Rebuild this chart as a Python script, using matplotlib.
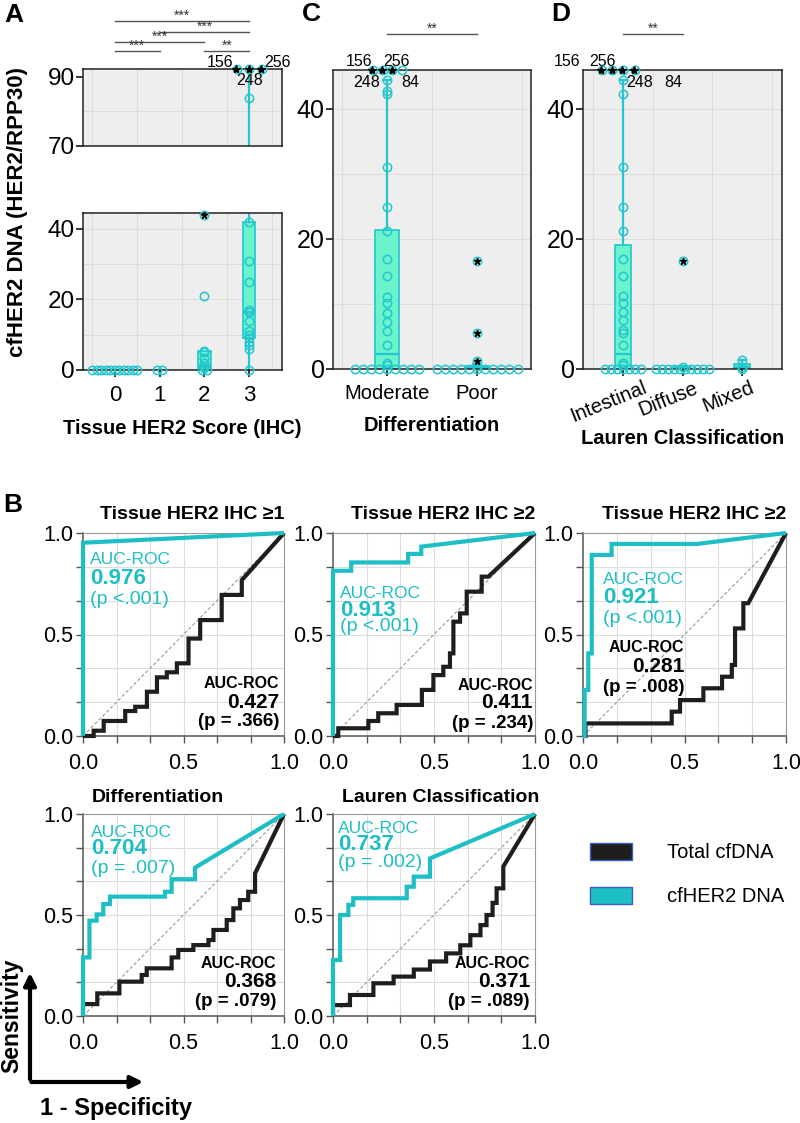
import numpy as np
import matplotlib
matplotlib.use('Agg')
import matplotlib.pyplot as plt
from matplotlib.patches import Rectangle, FancyArrowPatch
from matplotlib.transforms import ScaledTranslation, blended_transform_factory

plt.rcParams['font.family'] = ['Liberation Sans', 'DejaVu Sans']

# ---------------- data ----------------
ihc_categories = ['0', '1', '2', '3']
ihc_points = [
    [0, 0, 0, 0, 0, 0, 0, 0, 0, 0, 0],
    [0, 0],
    [0, 0, 0.5, 1.0, 2.0, 3.5, 5.0, 5.5, 21.0],
    [0, 6.0, 7.0, 8.0, 9.0, 10.0, 11.0, 14.0, 16.5, 17.0, 25.0, 31.0, 42.0, 84.0],
]
ihc_star_points = [[], [], [44.0], []]
ihc_offscale = [[], [], [], [156, 248, 256]]
ihc_q1 = [0, 0, 0, 9.0]
ihc_med = [0, 0, 1.0, 16.5]
ihc_q3 = [0, 0, 5.5, 42.0]
ihc_whishi = [0, 0, 5.5, 256]
ihc_sig_pairs = [(0, 3), (1, 3), (0, 2), (0, 1), (2, 3)]
ihc_sig_labels = ['***', '***', '***', '***', '**']

diff_categories = ['Moderate', 'Poor']
diff_points = [
    [0, 0, 0, 0, 0, 0, 0, 0, 0, 0.6, 0.9, 3.7, 5.9, 7.2, 8.6, 10.2, 11.1, 14.3, 17.0,
     21.3, 24.9, 31.1, 42.3, 42.8, 44.5],
    [0, 0, 0, 0, 0, 0, 0, 0, 0, 0, 0, 0.4],
]
diff_star_points = [[], [1.3, 5.5, 16.6]]
diff_offscale = [[156, 256, 248, 84], []]
diff_q1 = [0, 0]
diff_med = [2.3, 0.2]
diff_q3 = [21.4, 0.4]
diff_whishi = [44.5, 0.8]
diff_sig_pairs = [(0, 1)]
diff_sig_labels = ['**']

lauren_categories = ['Intestinal', 'Diffuse', 'Mixed']
lauren_points = [
    [0, 0, 0, 0, 0, 0, 0, 0.6, 1.0, 3.7, 5.5, 6.0, 7.5, 8.8, 10.2, 11.2, 14.3, 17.0,
     21.3, 24.9, 31.1, 42.3, 44.5],
    [0, 0, 0, 0, 0, 0, 0, 0, 0, 0, 0.3],
    [0, 0.3, 1.4],
]
lauren_star_points = [[], [16.6], []]
lauren_offscale = [[156, 256, 248, 84], [], []]
lauren_q1 = [0, 0, 0]
lauren_med = [2.3, 0.1, 0.3]
lauren_q3 = [19.1, 0.3, 0.7]
lauren_whishi = [44.5, 0.4, 1.4]
lauren_sig_pairs = [(0, 1)]
lauren_sig_labels = ['**']

roc_titles = ['Tissue HER2 IHC ≥1', 'Tissue HER2 IHC ≥2', 'Tissue HER2 IHC ≥2',
              'Differentiation', 'Lauren Classification']
auc_her2 = ['0.976', '0.913', '0.921', '0.704', '0.737']
p_her2 = ['(p <.001)', '(p <.001)', '(p <.001)', '(p = .007)', '(p = .002)']
auc_total = ['0.427', '0.411', '0.281', '0.368', '0.371']
p_total = ['(p = .366)', '(p = .234)', '(p = .008)', '(p = .079)', '(p = .089)']

her2_fpr = [
    [0, 0, 1.0],
    [0, 0, 0.09, 0.09, 0.372, 0.372, 0.437, 0.437, 1.0],
    [0, 0.008, 0.008, 0.026, 0.026, 0.043, 0.043, 0.141, 0.141, 0.56, 1.0],
    [0, 0, 0.032, 0.032, 0.068, 0.068, 0.101, 0.101, 0.134, 0.134, 0.408, 0.408,
     0.441, 0.441, 0.557, 0.557, 1.0],
    [0, 0, 0.035, 0.035, 0.076, 0.076, 0.1, 0.1, 0.365, 0.365, 0.4, 0.4, 0.48, 0.48, 1.0],
]
her2_tpr = [
    [0, 0.952, 1.0],
    [0, 0.814, 0.814, 0.855, 0.855, 0.897, 0.897, 0.933, 1.0],
    [0, 0, 0.227, 0.227, 0.407, 0.407, 0.892, 0.892, 0.946, 0.946, 1.0],
    [0, 0.29, 0.29, 0.472, 0.472, 0.503, 0.503, 0.554, 0.554, 0.591, 0.591, 0.615,
     0.615, 0.677, 0.677, 0.734, 1.0],
    [0, 0.277, 0.277, 0.5, 0.5, 0.55, 0.55, 0.583, 0.583, 0.64, 0.64, 0.69, 0.69, 0.78, 1.0],
]
total_fpr = [
    [0, 0.053, 0.053, 0.103, 0.103, 0.21, 0.21, 0.26, 0.26, 0.318, 0.318, 0.368, 0.368,
     0.417, 0.417, 0.467, 0.467, 0.525, 0.525, 0.583, 0.583, 0.69, 0.69, 0.79, 0.79, 1.0],
    [0, 0.026, 0.026, 0.175, 0.175, 0.224, 0.224, 0.315, 0.315, 0.44, 0.44, 0.497, 0.497,
     0.546, 0.546, 0.579, 0.579, 0.596, 0.596, 0.629, 0.629, 0.662, 0.662, 0.736, 0.736,
     0.769, 1.0],
    [0, 0.012, 0.012, 0.437, 0.437, 0.478, 0.478, 0.593, 0.593, 0.685, 0.685, 0.733, 0.733,
     0.749, 0.749, 0.79, 0.79, 0.814, 1.0],
    [0, 0, 0.071, 0.071, 0.181, 0.181, 0.292, 0.292, 0.317, 0.317, 0.441, 0.441, 0.474,
     0.474, 0.549, 0.549, 0.624, 0.624, 0.649, 0.649, 0.715, 0.715, 0.748, 0.748, 0.781,
     0.781, 0.822, 0.822, 0.856, 0.856, 1.0],
    [0, 0, 0.084, 0.084, 0.2, 0.2, 0.3, 0.3, 0.4, 0.4, 0.48, 0.48, 0.56, 0.56, 0.63, 0.63,
     0.68, 0.68, 0.73, 0.73, 0.76, 0.76, 0.79, 0.79, 0.81, 0.81, 0.843, 0.843, 1.0],
]
total_tpr = [
    [0, 0, 0.026, 0.026, 0.074, 0.074, 0.123, 0.123, 0.144, 0.144, 0.218, 0.218, 0.289,
     0.289, 0.314, 0.314, 0.358, 0.358, 0.48, 0.48, 0.571, 0.571, 0.695, 0.695, 0.768, 1.0],
    [0, 0, 0.038, 0.038, 0.074, 0.074, 0.112, 0.112, 0.153, 0.153, 0.227, 0.227, 0.30,
     0.30, 0.341, 0.341, 0.407, 0.407, 0.563, 0.563, 0.604, 0.604, 0.711, 0.711, 0.785,
     0.785, 1.0],
    [0, 0, 0.062, 0.062, 0.12, 0.12, 0.177, 0.177, 0.235, 0.235, 0.292, 0.292, 0.35, 0.35,
     0.53, 0.53, 0.654, 0.654, 1.0],
    [0, 0.059, 0.059, 0.112, 0.112, 0.17, 0.17, 0.203, 0.203, 0.236, 0.236, 0.29, 0.29,
     0.327, 0.327, 0.351, 0.351, 0.376, 0.376, 0.426, 0.426, 0.475, 0.475, 0.533, 0.533,
     0.574, 0.574, 0.615, 0.615, 0.706, 1.0],
    [0, 0.054, 0.054, 0.104, 0.104, 0.162, 0.162, 0.195, 0.195, 0.23, 0.23, 0.27, 0.27,
     0.31, 0.31, 0.35, 0.35, 0.4, 0.4, 0.45, 0.45, 0.5, 0.5, 0.56, 0.56, 0.632, 0.632,
     0.74, 1.0],
]
legend_labels = ['Total cfDNA', 'cfHER2 DNA']

# ---------------- style ----------------
W, H = 800, 1123
CYAN = '#22C6CE'
ROC_CYAN = '#1DBFC4'
MINT = '#6BF4CC'
BG = '#EEEEEE'
GRID = '#DCDCDC'
DARK = '#1E1E1E'

fig = plt.figure(figsize=(W / 100, H / 100), dpi=100)


def add_ax(x0, y0, x1, y1):
    return fig.add_axes([x0 / W, 1 - y1 / H, (x1 - x0) / W, (y1 - y0) / H])


def fig_y(px):
    return 1 - px / H


def swarm_x(vals, center, step):
    vals = np.asarray(vals, float)
    xs = np.full(len(vals), float(center))
    idx = np.where(vals == 0)[0]
    n = len(idx)
    xs[idx] = center + (np.arange(n) - (n - 1) / 2) * step
    return xs


def style_box_axes(ax, xlim, ylim, yticks, ygrid, ncat, ysize):
    ax.set_facecolor(BG)
    ax.set_xlim(*xlim)
    ax.set_ylim(*ylim)
    ax.set_yticks(yticks)
    for g in ygrid:
        ax.axhline(g, color=GRID, lw=0.7, zorder=0)
    for g in np.arange(-0.5, ncat + 0.5, 1.0):
        ax.axvline(g, color=GRID, lw=0.7, zorder=0)
    for s in ax.spines.values():
        s.set_color('#222222')
        s.set_linewidth(1.1)
    ax.tick_params(axis='y', labelsize=ysize, length=5, width=1.1, pad=1)
    ax.tick_params(axis='x', labelsize=14.5, length=5, width=1.1, pad=6)


def draw_group(ax, pos, vals, stars, q1, med, q3, whi, width, step, ylo, yhi, capw=0.0):
    st = dict(med=med, q1=q1, q3=q3, whislo=0, whishi=whi)
    ax.bxp([st], positions=[pos], widths=[width], showfliers=False, patch_artist=True,
           showcaps=capw > 0, capwidths=[capw] if capw > 0 else None,
           boxprops=dict(facecolor=MINT, edgecolor=CYAN, lw=1.2),
           medianprops=dict(color=CYAN, lw=1.6),
           whiskerprops=dict(color=CYAN, lw=1.6),
           capprops=dict(color=CYAN, lw=1.6), manage_ticks=False)
    vals = np.asarray(vals, float)
    xs = swarm_x(vals, pos, step)
    m = (vals >= ylo) & (vals <= yhi)
    ax.plot(xs[m], vals[m], 'o', mfc='none', mec=CYAN, ms=6, mew=1.1, clip_on=False, zorder=4)
    for v in stars:
        if ylo <= v <= yhi:
            ax.plot([pos], [v], 'o', mfc='none', mec=CYAN, ms=6, mew=1.1, clip_on=False, zorder=4)
            ax.plot([pos], [v], '*', color='black', ms=5, clip_on=False, zorder=5)


def offscale(ax, pos, values, offsets, stars_n, ytop, label_offsets):
    for i, (v, o) in enumerate(zip(values, offsets)):
        ax.plot([pos + o], [ytop], 'o', mfc='none', mec=CYAN, ms=6, mew=1.1, clip_on=False, zorder=5)
        if i < stars_n:
            ax.plot([pos + o - 0.01], [ytop], '*', color='black', ms=6, clip_on=False, zorder=6)
    for v, (dx, dy) in zip(values, label_offsets):
        ax.annotate(str(v), xy=(pos, ytop), xytext=(dx, dy), textcoords='offset points',
                    ha='center', va='center', fontsize=11.5, annotation_clip=False)


def sig_bars(ax, pairs, labels, ypx_list):
    tr = blended_transform_factory(ax.transData, fig.transFigure)
    for (a, b), lab, ypx in zip(pairs, labels, ypx_list):
        ax.plot([a, b], [fig_y(ypx), fig_y(ypx)], color='#555555', lw=1.0, transform=tr, clip_on=False)
        ax.text((a + b) / 2, fig_y(ypx - 5), lab, transform=tr, ha='center', va='center',
                fontsize=10, color='#333333')


# ---------------- Panel A ----------------
xlimA = (-0.71, 3.73)
axAt = add_ax(83, 69, 282, 146)
style_box_axes(axAt, xlimA, (70, 92.3), [70, 90], [80], 4, 17.5)
axAt.set_xticks([])
axAb = add_ax(83, 213, 282, 370)
style_box_axes(axAb, xlimA, (0, 44.5), [0, 20, 40], [10, 20, 30, 40], 4, 17.5)
axAb.set_xticks(range(4))
axAb.set_xticklabels(ihc_categories)
axAb.tick_params(axis='x', labelsize=16)
for i in range(4):
    draw_group(axAb, i, ihc_points[i], ihc_star_points[i], ihc_q1[i], ihc_med[i], ihc_q3[i],
               ihc_whishi[i], 0.27, 0.1, 0, 44.5)
    draw_group(axAt, i, ihc_points[i], [], ihc_q1[i], ihc_med[i], ihc_q3[i],
               ihc_whishi[i], 0.27, 0.1, 70, 92.3)
offscale(axAt, 3, ihc_offscale[3], [-0.28, 0.0, 0.28], 3, 92.3,
         [(-21, 5), (0, -8), (20, 5)])
sig_bars(axAt, ihc_sig_pairs, ihc_sig_labels, [21, 32, 42, 51, 51])
axAb.set_xlabel('Tissue HER2 Score (IHC)', fontsize=14.5, fontweight='bold', labelpad=9)
fig.text(0.022, fig_y(212), 'cfHER2 DNA (HER2/RPP30)', rotation=90, ha='center', va='center',
         fontsize=16, fontweight='bold')

# ---------------- Panel C ----------------
axC = add_ax(333, 70, 531, 369)
style_box_axes(axC, (-0.6, 1.6), (0, 46), [0, 20, 40], [10, 20, 30, 40], 2, 18)
axC.set_xticks(range(2))
axC.set_xticklabels(diff_categories)
for i in range(2):
    draw_group(axC, i, diff_points[i], diff_star_points[i], diff_q1[i], diff_med[i], diff_q3[i],
               diff_whishi[i], 0.26, 0.09, 0, 46, capw=0.08)
offscale(axC, 0, diff_offscale[0], [-0.16, -0.05, 0.06, 0.17], 3, 46,
         [(-20, 6), (7, 6), (-15, -9), (17, -9)])
sig_bars(axC, diff_sig_pairs, diff_sig_labels, [34])
axC.set_xlabel('Differentiation', fontsize=14.5, fontweight='bold', labelpad=9)

# ---------------- Panel D ----------------
axD = add_ax(583, 70, 782, 369)
style_box_axes(axD, (-0.67, 2.67), (0, 46), [0, 20, 40], [10, 20, 30, 40], 3, 18)
axD.set_xticks(range(3))
axD.set_xticklabels(lauren_categories, rotation=22, ha='center')
for lab in axD.get_xticklabels():
    lab.set_transform(lab.get_transform() + ScaledTranslation(-14 / 100, 0.06, fig.dpi_scale_trans))
for i in range(3):
    draw_group(axD, i, lauren_points[i], lauren_star_points[i], lauren_q1[i], lauren_med[i],
               lauren_q3[i], lauren_whishi[i], 0.27, 0.1, 0, 46, capw=0.1)
offscale(axD, 0, lauren_offscale[0], [-0.35, -0.18, 0.0, 0.2], 4, 46,
         [(-40, 6), (-15, 6), (12, -9), (36, -9)])
sig_bars(axD, lauren_sig_pairs, lauren_sig_labels, [34])
axD.set_xlabel('Lauren Classification', fontsize=14.5, fontweight='bold', labelpad=2)

# ---------------- Panel B (ROC) ----------------
roc_boxes = [(83, 533, 284, 736), (333, 533, 535, 736), (583, 533, 786, 736),
             (83, 814, 284, 1016), (333, 814, 535, 1016)]
her2_text_pos = [(0.035, 0.867, 0.778, 0.67), (0.035, 0.704, 0.62, 0.537),
                 (0.10, 0.77, 0.68, 0.58), (0.04, 0.91, 0.83, 0.73), (0.025, 0.93, 0.85, 0.76)]
total_text_pos = [(0.975, 0.261, 0.167, 0.069), (0.99, 0.25, 0.163, 0.064),
                  (0.50, 0.435, 0.34, 0.24), (0.96, 0.26, 0.17, 0.07), (0.975, 0.26, 0.17, 0.07)]
sixths = np.arange(0, 7) / 6
for k, (x0, y0, x1, y1) in enumerate(roc_boxes):
    ax = add_ax(x0, y0, x1, y1)
    ax.set_xlim(0, 1)
    ax.set_ylim(0, 1)
    for g in sixths[1:-1]:
        ax.axhline(g, color='#DDDDDD', lw=0.8, zorder=0)
        ax.axvline(g, color='#DDDDDD', lw=0.8, zorder=0)
    ax.set_xticks([0, 0.5, 1.0])
    ax.set_yticks([0, 0.5, 1.0])
    ax.set_xticklabels(['0.0', '0.5', '1.0'])
    ax.set_yticklabels(['0.0', '0.5', '1.0'])
    ax.set_xticks(sixths, minor=True)
    ax.set_yticks(sixths, minor=True)
    ax.tick_params(which='both', length=5, width=1, color='#555555', labelsize=15.5)
    ax.tick_params(axis='x', pad=7)
    ax.tick_params(axis='y', pad=2)
    for s in ['left', 'bottom']:
        ax.spines[s].set_color('#555555')
        ax.spines[s].set_linewidth(1.1)
    for s in ['top', 'right']:
        ax.spines[s].set_color('#999999')
        ax.spines[s].set_linewidth(0.8)
    ax.plot([0, 1], [0, 1], ls=(0, (3, 2)), color='#999999', lw=0.8, zorder=1)
    ax.plot(total_fpr[k], total_tpr[k], color=DARK, lw=3, zorder=3, clip_on=False,
            solid_joinstyle='miter', solid_capstyle='butt')
    ax.plot(her2_fpr[k], her2_tpr[k], color=ROC_CYAN, lw=3, zorder=4, clip_on=False,
            solid_joinstyle='miter', solid_capstyle='butt')
    hx, hy1, hy2, hy3 = her2_text_pos[k]
    ax.text(hx, hy1, 'AUC-ROC', transform=ax.transAxes, color=ROC_CYAN, fontsize=12.5,
            ha='left', va='center')
    ax.text(hx, hy2, auc_her2[k], transform=ax.transAxes, color=ROC_CYAN, fontsize=16,
            ha='left', va='center', fontweight='semibold')
    ax.text(hx, hy3, p_her2[k], transform=ax.transAxes, color=ROC_CYAN, fontsize=14,
            ha='left', va='center')
    tx, ty1, ty2, ty3 = total_text_pos[k]
    ax.text(tx, ty1, 'AUC-ROC', transform=ax.transAxes, color='black', fontsize=11.5,
            ha='right', va='center', fontweight='bold')
    ax.text(tx, ty2, auc_total[k], transform=ax.transAxes, color='black', fontsize=15,
            ha='right', va='center', fontweight='bold')
    ax.text(tx, ty3, p_total[k], transform=ax.transAxes, color='black', fontsize=13.5,
            ha='right', va='center', fontweight='bold')
    if k < 3:
        ax.text(1.0, 1 + 18 / (y1 - y0), roc_titles[k], transform=ax.transAxes, ha='right',
                va='center', fontsize=14, fontweight='bold')
    else:
        ax.text(0.045, 1 + 17 / (y1 - y0), roc_titles[k], transform=ax.transAxes, ha='left',
                va='center', fontsize=14, fontweight='bold')

# legend
for lab, col, ypx in zip(legend_labels, [DARK, ROC_CYAN], [843, 887]):
    fig.patches.append(Rectangle((590 / W, fig_y(ypx + 17)), 42 / W, 17 / H,
                                 transform=fig.transFigure, facecolor=col,
                                 edgecolor='#3A5FC8', lw=1.0))
    fig.text(667 / W, fig_y(ypx + 9), lab, ha='left', va='center', fontsize=14.5)

# axis arrows
fig.patches.append(FancyArrowPatch((30 / W, fig_y(1082)), (30 / W, fig_y(970)),
                                   transform=fig.transFigure, arrowstyle='-|>',
                                   mutation_scale=18, lw=3, color='black'))
fig.patches.append(FancyArrowPatch((28.5 / W, fig_y(1082)), (146 / W, fig_y(1082)),
                                   transform=fig.transFigure, arrowstyle='-|>',
                                   mutation_scale=18, lw=3, color='black'))
fig.text(12 / W, fig_y(1016), 'Sensitivity', rotation=90, ha='center', va='center',
         fontsize=16.5, fontweight='bold')
fig.text(116 / W, fig_y(1108), '1 - Specificity', ha='center', va='center',
         fontsize=17, fontweight='bold')

# panel letters
for lab, xp, yp in [('A', 14, 15), ('C', 311, 14), ('D', 561, 14), ('B', 13, 505)]:
    fig.text(xp / W, fig_y(yp), lab, ha='center', va='center', fontsize=19, fontweight='bold')

fig.savefig('out.png', dpi=100)
